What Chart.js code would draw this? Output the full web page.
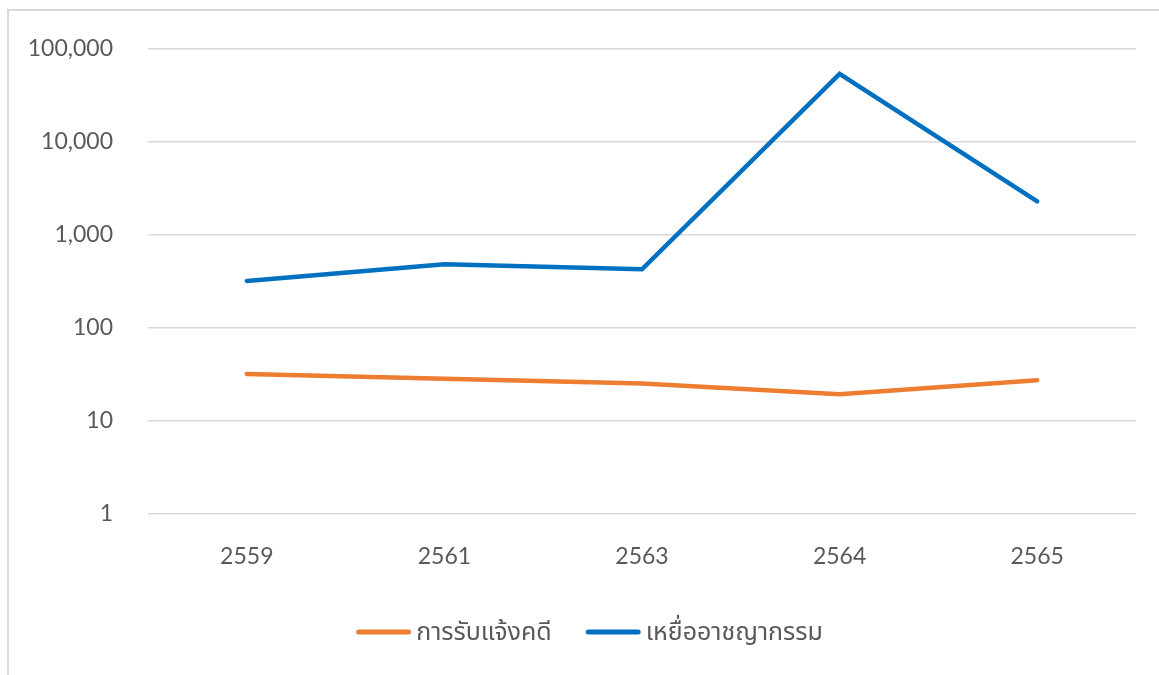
<!DOCTYPE html>
<html>
<head>
<meta charset="utf-8">
<script src="https://cdn.jsdelivr.net/npm/chart.js@4"></script>
<style>
  html, body { margin: 0; padding: 0; background: #fff; }
  #frame { position: absolute; left: 7px; top: 9px; width: 1152px; height: 666px;
           border-left: 2px solid #d9d9d9; border-top: 2px solid #d9d9d9; }
  #wrap { position: absolute; left: 0; top: 0; width: 1159px; height: 675px; }
</style>
</head>
<body>
<div id="frame"></div>
<div id="wrap"><canvas id="myChart"></canvas></div>
<script>
const years = ["2559", "2561", "2563", "2564", "2565"];
const reports = [32, 28.5, 25.2, 19.4, 27.4];
const victims = [320, 483, 427, 53700, 2290];
const yTicks = [1, 10, 100, 1000, 10000, 100000];

const textColor = "#595959";
const fontFamily = "Lato, 'Noto Sans Thai', 'Noto Sans', sans-serif";

// legend drawn by hand so the line / text / item gaps match
const lineLegend = {
  id: 'lineLegend',
  afterDraw(chart) {
    const ctx = chart.ctx;
    const sets = chart.data.datasets;
    const lineW = 55, textGap = 5, itemGap = 34, y = 632;
    ctx.save();
    ctx.font = `25px ${fontFamily}`;
    let total = 0;
    sets.forEach((ds, i) => {
      total += lineW + textGap + ctx.measureText(ds.label).width;
      if (i < sets.length - 1) total += itemGap;
    });
    let x = (chart.width - total) / 2 + 10;
    sets.forEach((ds) => {
      ctx.strokeStyle = ds.borderColor;
      ctx.lineWidth = 5;
      ctx.lineCap = 'round';
      ctx.beginPath();
      ctx.moveTo(x + 2.5, y);
      ctx.lineTo(x + lineW - 2.5, y);
      ctx.stroke();
      x += lineW + textGap;
      ctx.fillStyle = textColor;
      ctx.textBaseline = 'middle';
      ctx.fillText(ds.label, x, y);
      x += ctx.measureText(ds.label).width + itemGap;
    });
    ctx.restore();
  }
};

new Chart(document.getElementById("myChart"), {
  type: 'line',
  data: {
    labels: years,
    datasets: [{
      label: "การรับแจ้งคดี",
      data: reports,
      borderColor: "#ED7D31",
      backgroundColor: "#ED7D31",
      borderWidth: 4.5,
      pointRadius: 0,
      borderCapStyle: 'round',
      tension: 0
    }, {
      label: "เหยื่ออาชญากรรม",
      data: victims,
      borderColor: "#0070C0",
      backgroundColor: "#0070C0",
      borderWidth: 4.5,
      pointRadius: 0,
      borderCapStyle: 'round',
      tension: 0
    }]
  },
  options: {
    responsive: true,
    maintainAspectRatio: false,
    animation: false,
    layout: { padding: { top: 30, right: 23, bottom: 80, left: 0 } },
    plugins: {
      legend: { display: false },
      tooltip: { enabled: false }
    },
    scales: {
      x: {
        offset: true,
        afterFit: (scale) => { scale.height = 81; },
        grid: { display: false },
        border: { display: false },
        ticks: { color: textColor, font: { family: fontFamily, size: 23 }, padding: 21 }
      },
      y: {
        type: 'logarithmic',
        min: 1,
        max: 100000,
        afterBuildTicks: (scale) => { scale.ticks = yTicks.map(v => ({ value: v })); },
        afterFit: (scale) => { scale.width = 148; },
        grid: { color: "#d9d9d9", lineWidth: 1.5, drawTicks: false },
        border: { display: false },
        ticks: {
          color: textColor,
          font: { family: fontFamily, size: 23 },
          padding: 35,
          callback: (v) => Number(v).toLocaleString('en-US')
        }
      }
    }
  },
  plugins: [lineLegend]
});
</script>
</body>
</html>
